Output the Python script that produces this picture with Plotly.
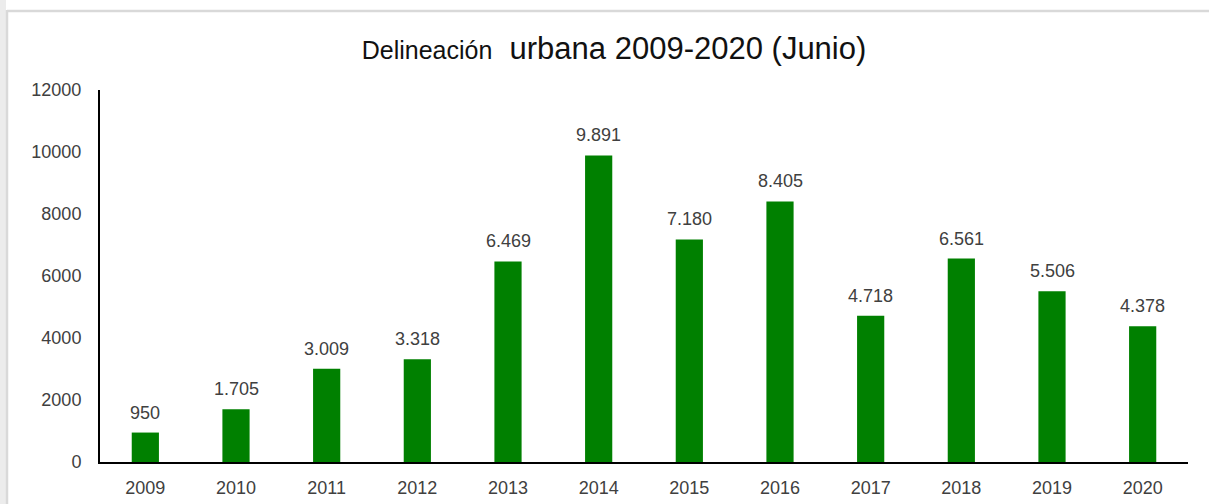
import plotly.graph_objects as go

years = ["2009", "2010", "2011", "2012", "2013", "2014", "2015", "2016", "2017", "2018", "2019", "2020"]
values = [950, 1705, 3009, 3318, 6469, 9891, 7180, 8405, 4718, 6561, 5506, 4378]
y_ticks = [0, 2000, 4000, 6000, 8000, 10000, 12000]

labels = [f"{v:,}".replace(",", ".") for v in values]

W, H = 1209, 504
ML, MR, MT, MB = 100, 21, 90, 42
pw, ph = W - ML - MR, H - MT - MB

def px_x(p):
    return (p - ML) / pw

def px_y(p):
    return (H - MB - p) / ph

FONT = "Liberation Sans, Arial, sans-serif"

fig = go.Figure()
fig.add_trace(go.Bar(
    x=list(range(len(years))), y=values,
    marker=dict(color="#008000", line=dict(width=0)),
    hovertext=years, hoverinfo="text+y",
))

annotations = []
for i, (v, lab) in enumerate(zip(values, labels)):
    annotations.append(dict(
        x=i, y=v, xref="x", yref="y", text=lab, showarrow=False,
        yanchor="bottom", yshift=8,
        font=dict(family=FONT, size=18, color="#404040"),
    ))

fig.update_layout(
    width=W, height=H,
    margin=dict(l=ML, r=MR, t=MT, b=MB, autoexpand=False),
    paper_bgcolor="white", plot_bgcolor="white",
    bargap=0.7,
    showlegend=False,
    title=dict(
        text="<span style='font-size:25px'>Delineación</span>  urbana 2009-2020 (Junio)",
        x=px_x(614), xanchor="center", y=1 - 48 / H, yanchor="middle",
        xref="paper", yref="container",
        font=dict(family=FONT, size=31, color="#111111"),
    ),
    xaxis=dict(
        range=[-0.5, len(years) - 0.5],
        tickvals=list(range(len(years))), ticktext=years,
        showline=True, linecolor="black", linewidth=2,
        showgrid=False, zeroline=False, ticks="",
        tickfont=dict(family=FONT, size=18, color="#404040"),
        ticklabelstandoff=8, automargin=False,
    ),
    yaxis=dict(
        range=[0, 12000],
        tickvals=y_ticks, ticktext=[str(t) for t in y_ticks],
        showline=True, linecolor="black", linewidth=2,
        showgrid=False, zeroline=False, ticks="",
        tickfont=dict(family=FONT, size=18, color="#404040"),
        ticklabelstandoff=13, automargin=False,
    ),
    annotations=annotations,
    shapes=[
        dict(type="rect", xref="paper", yref="paper",
             x0=px_x(-5), x1=px_x(6), y0=px_y(520), y1=px_y(-5),
             fillcolor="#ececec", line=dict(width=0), layer="above"),
        dict(type="line", xref="paper", yref="paper",
             x0=px_x(7), x1=px_x(1215), y0=px_y(11), y1=px_y(11),
             line=dict(color="#d9d9d9", width=2.5), layer="above"),
        dict(type="line", xref="paper", yref="paper",
             x0=px_x(7), x1=px_x(7), y0=px_y(10), y1=px_y(520),
             line=dict(color="#d9d9d9", width=2.5), layer="above"),
    ],
)

fig.write_html("out.html", config={"displayModeBar": False},
               post_script="document.body.style.margin='0';document.body.style.overflow='hidden';")
